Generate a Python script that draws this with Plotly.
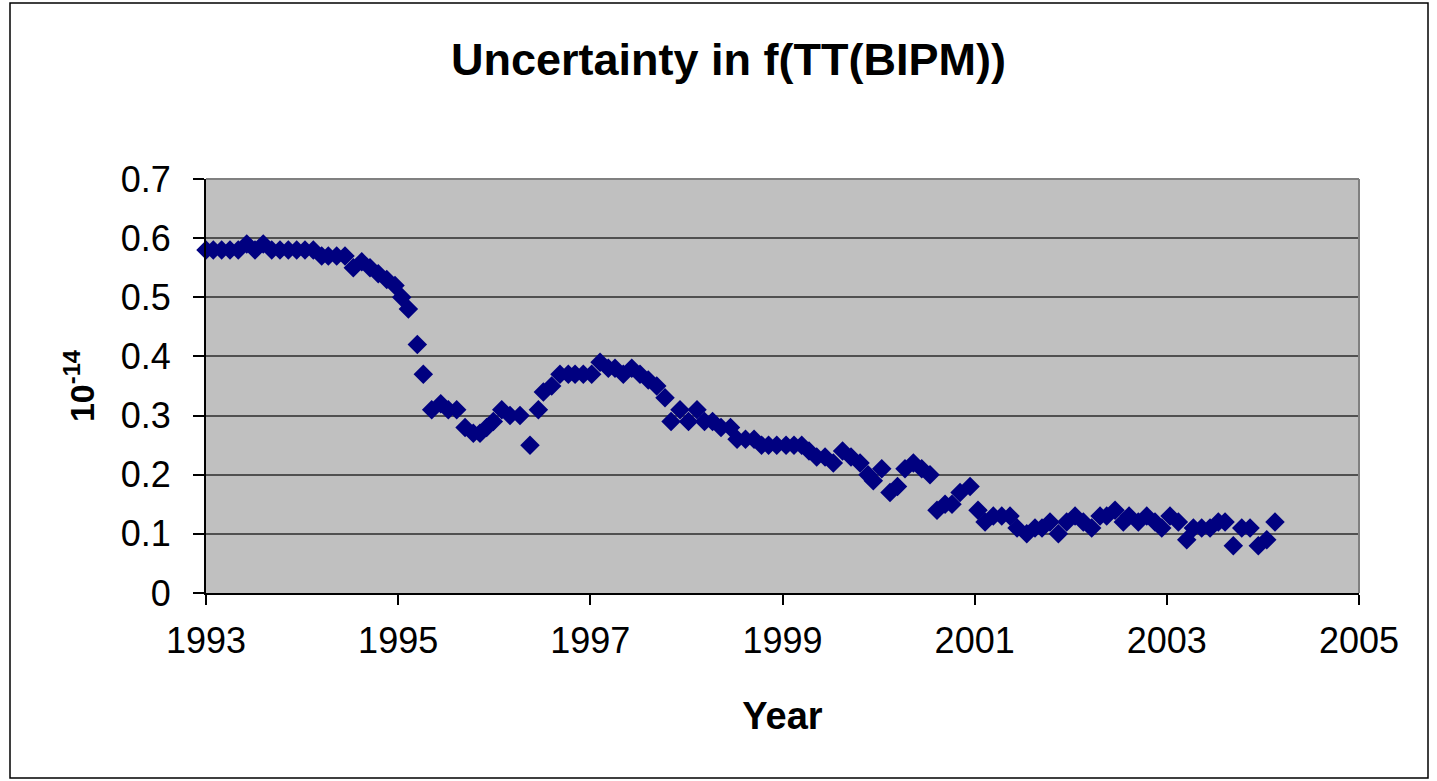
import plotly.graph_objects as go

# decimal years
years = [
    1993.000, 1993.076, 1993.163, 1993.250, 1993.336, 1993.424, 1993.510, 1993.596, 1993.684, 1993.770,
    1993.857, 1993.944, 1994.030, 1994.117, 1994.204, 1994.273, 1994.360, 1994.447, 1994.533, 1994.621,
    1994.707, 1994.793, 1994.881, 1994.967, 1995.037, 1995.106, 1995.199, 1995.262, 1995.349, 1995.443,
    1995.522, 1995.609, 1995.696, 1995.782, 1995.852, 1995.921, 1995.990, 1996.078, 1996.164, 1996.268,
    1996.372, 1996.459, 1996.511, 1996.598, 1996.684, 1996.771, 1996.841, 1996.927, 1997.014, 1997.101,
    1997.187, 1997.257, 1997.343, 1997.431, 1997.517, 1997.603, 1997.691, 1997.777, 1997.840, 1997.933,
    1998.022, 1998.110, 1998.188, 1998.272, 1998.360, 1998.459, 1998.527, 1998.615, 1998.704, 1998.782,
    1998.855, 1998.940, 1999.037, 1999.120, 1999.200, 1999.276, 1999.356, 1999.443, 1999.529, 1999.625,
    1999.713, 1999.807, 1999.890, 1999.945, 2000.033, 2000.119, 2000.197, 2000.275, 2000.362, 2000.449,
    2000.535, 2000.608, 2000.692, 2000.764, 2000.848, 2000.952, 2001.035, 2001.108, 2001.194, 2001.282,
    2001.368, 2001.441, 2001.542, 2001.628, 2001.701, 2001.784, 2001.871, 2001.958, 2002.045, 2002.131,
    2002.218, 2002.305, 2002.374, 2002.461, 2002.547, 2002.607, 2002.703, 2002.791, 2002.877, 2002.947,
    2003.033, 2003.120, 2003.207, 2003.276, 2003.363, 2003.450, 2003.536, 2003.606, 2003.692, 2003.780,
    2003.866, 2003.952, 2004.040, 2004.126,
]

# uncertainty, units of 1e-14
uncertainty = [
    0.58, 0.58, 0.58, 0.58, 0.58, 0.59, 0.58, 0.59, 0.58, 0.58,
    0.58, 0.58, 0.58, 0.58, 0.57, 0.57, 0.57, 0.57, 0.55, 0.56,
    0.55, 0.54, 0.53, 0.52, 0.50, 0.48, 0.42, 0.37, 0.31, 0.32,
    0.31, 0.31, 0.28, 0.27, 0.27, 0.28, 0.29, 0.31, 0.30, 0.30,
    0.25, 0.31, 0.34, 0.35, 0.37, 0.37, 0.37, 0.37, 0.37, 0.39,
    0.38, 0.38, 0.37, 0.38, 0.37, 0.36, 0.35, 0.33, 0.29, 0.31,
    0.29, 0.31, 0.29, 0.29, 0.28, 0.28, 0.26, 0.26, 0.26, 0.25,
    0.25, 0.25, 0.25, 0.25, 0.25, 0.24, 0.23, 0.23, 0.22, 0.24,
    0.23, 0.22, 0.20, 0.19, 0.21, 0.17, 0.18, 0.21, 0.22, 0.21,
    0.20, 0.14, 0.15, 0.15, 0.17, 0.18, 0.14, 0.12, 0.13, 0.13,
    0.13, 0.11, 0.10, 0.11, 0.11, 0.12, 0.10, 0.12, 0.13, 0.12,
    0.11, 0.13, 0.13, 0.14, 0.12, 0.13, 0.12, 0.13, 0.12, 0.11,
    0.13, 0.12, 0.09, 0.11, 0.11, 0.11, 0.12, 0.12, 0.08, 0.11,
    0.11, 0.08, 0.09, 0.12,
]

x_ticks = [1993, 1995, 1997, 1999, 2001, 2003, 2005]
y_ticks = [0, 0.1, 0.2, 0.3, 0.4, 0.5, 0.6, 0.7]
y_tick_labels = ["0", "0.1", "0.2", "0.3", "0.4", "0.5", "0.6", "0.7"]

FONT = "Liberation Sans, Arial, sans-serif"

W, H = 1437, 781
L, R, T, B = 206, 1359, 179, 593

def px(x):
    return (x - L) / (R - L)

def py(y):
    return (B - y) / (B - T)

fig = go.Figure()
fig.add_trace(go.Scatter(
    x=years, y=uncertainty, mode="markers",
    marker=dict(symbol="diamond", size=15, color="#000080",
                line=dict(width=0)),
    showlegend=False, cliponaxis=False,
))

fig.update_layout(
    width=W, height=H,
    margin=dict(l=L, r=W - R, t=T, b=H - B, pad=0),
    paper_bgcolor="white",
    plot_bgcolor="#C0C0C0",
    font=dict(family=FONT, color="black"),
    xaxis=dict(
        range=[1993, 2005], tickmode="array", tickvals=x_ticks,
        ticktext=[str(v) for v in x_ticks],
        showgrid=False, zeroline=False,
        showline=True, linecolor="black", linewidth=2,
        ticks="outside", ticklen=10, tickwidth=2, tickcolor="black",
        tickfont=dict(size=36, family=FONT),
        ticklabelstandoff=5,
        title=dict(text="<b>Year</b>", font=dict(size=38, family=FONT), standoff=42),
    ),
    yaxis=dict(
        range=[0, 0.7], tickmode="array", tickvals=y_ticks, ticktext=y_tick_labels,
        showgrid=True, gridcolor="#505050", gridwidth=2,
        zeroline=False,
        showline=True, linecolor="black", linewidth=2,
        ticks="outside", ticklen=11, tickwidth=2, tickcolor="black",
        tickfont=dict(size=36, family=FONT),
        ticklabelstandoff=15,
        title=dict(text="<b>10<sup>-14</sup></b>", font=dict(size=34, family=FONT), standoff=16),
    ),
    annotations=[
        dict(text="<b>Uncertainty in f(TT(BIPM))</b>", xref="paper", yref="paper",
             x=px(728), y=py(59), xanchor="center", yanchor="middle",
             showarrow=False, font=dict(size=45, family=FONT, color="black")),
    ],
    shapes=[
        # plot area border (top & right) in grey
        dict(type="line", xref="paper", yref="paper", x0=0, x1=1, y0=1, y1=1,
             line=dict(color="#808080", width=2)),
        dict(type="line", xref="paper", yref="paper", x0=1, x1=1, y0=0, y1=1,
             line=dict(color="#808080", width=2)),
        # outer chart border
        dict(type="rect", xref="paper", yref="paper",
             x0=px(10), x1=px(1428), y0=py(778), y1=py(3),
             line=dict(color="black", width=1.5), fillcolor="rgba(0,0,0,0)"),
    ],
)

fig.write_html(
    "out.html",
    config={"displayModeBar": False},
    post_script="document.body.style.margin='0';document.body.style.overflow='hidden';",
)
